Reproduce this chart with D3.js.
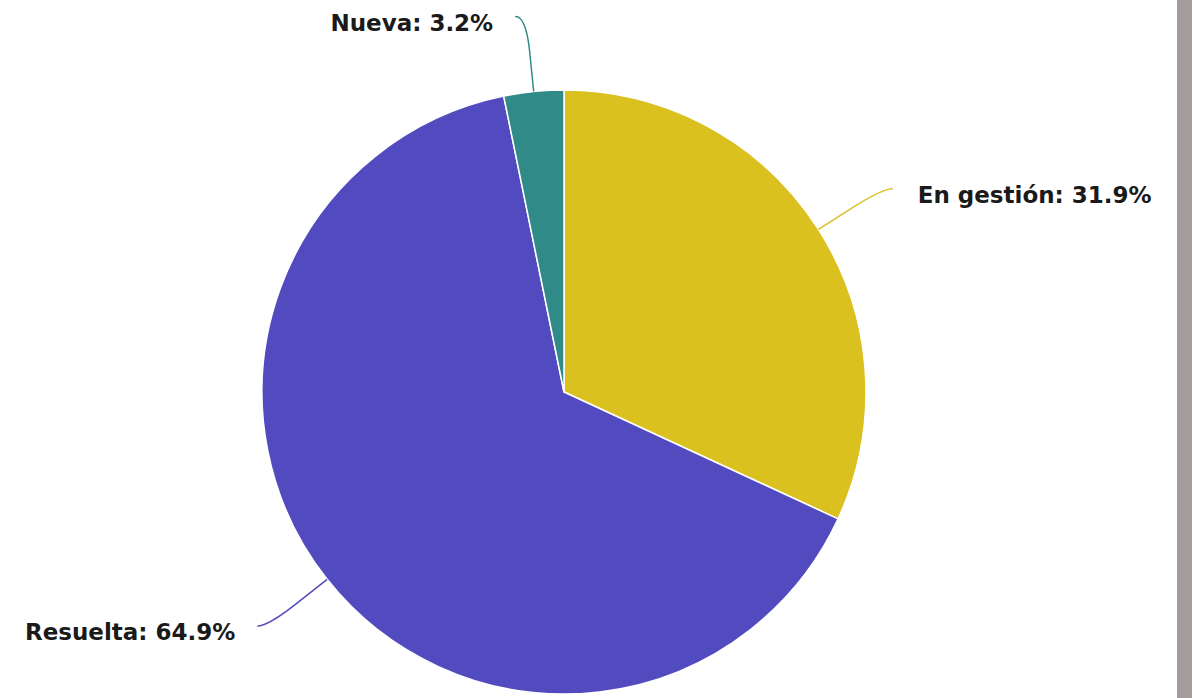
<!DOCTYPE html>
<html>
<head>
<meta charset="utf-8">
<script src="https://cdn.jsdelivr.net/npm/d3@7"></script>
<style>
  html, body { margin: 0; padding: 0; background: #fff; }
  #chart { width: 1192px; height: 698px; position: relative; }
</style>
</head>
<body>
<div id="chart"></div>
<script>
var categories = ['En gestión', 'Resuelta', 'Nueva'];
var values = [31.9, 64.9, 3.2];
var colors = ['#dbc120', '#524bbf', '#2f8a88'];

var width = 1192, height = 698;
var cx = 564, cy = 392, radius = 302;
var labelDistance = 75;   // etiqueta fuera del borde
var breakDistance = 40;   // quiebre del conector

var svg = d3.select('#chart')
  .append('svg')
  .attr('width', width)
  .attr('height', height);

// barra gris a la derecha
svg.append('rect')
  .attr('x', 1177)
  .attr('y', 0)
  .attr('width', width - 1177)
  .attr('height', height)
  .attr('fill', '#a59d9c');

var data = categories.map(function (c, i) {
  return { name: c, value: values[i], color: colors[i] };
});

var pie = d3.pie()
  .sort(null)
  .value(function (d) { return d.value; });

var arc = d3.arc()
  .innerRadius(0)
  .outerRadius(radius);

var arcs = pie(data);

var g = svg.append('g')
  .attr('transform', 'translate(' + cx + ',' + cy + ')');

g.selectAll('path.slice')
  .data(arcs)
  .enter()
  .append('path')
  .attr('class', 'slice')
  .attr('d', arc)
  .attr('fill', function (d) { return d.data.color; })
  .attr('stroke', '#fff')
  .attr('stroke-width', 1.5)
  .attr('stroke-linejoin', 'round');

function polar(a, r) {
  return [Math.sin(a) * r, -Math.cos(a) * r];
}

arcs.forEach(function (d) {
  var mid = (d.startAngle + d.endAngle) / 2;
  var side = Math.sin(mid) >= 0 ? 1 : -1;
  var p0 = polar(mid, radius);
  var b = polar(mid, radius + breakDistance);
  var lp = polar(mid, radius + labelDistance);
  var lx = lp[0] + side * 11, ly = lp[1];
  var c2 = [2 * b[0] - p0[0], 2 * b[1] - p0[1]];

  g.append('path')
    .attr('d', 'M' + lx + ',' + ly +
      'C' + lx + ',' + ly + ' ' + c2[0] + ',' + c2[1] + ' ' + b[0] + ',' + b[1] +
      'L' + p0[0] + ',' + p0[1])
    .attr('fill', 'none')
    .attr('stroke', d.data.color)
    .attr('stroke-width', 1.5);

  g.append('text')
    .attr('x', lx + side * (side > 0 ? 25 : 22))
    .attr('y', ly + 6)
    .attr('dy', '0.35em')
    .attr('text-anchor', side > 0 ? 'start' : 'end')
    .attr('font-family', 'DejaVu Sans, Verdana, sans-serif')
    .attr('font-weight', 'bold')
    .attr('font-size', 23)
    .attr('fill', '#1a1a1a')
    .text(d.data.name + ': ' + d3.format('.1f')(d.data.value) + '%');
});
</script>
</body>
</html>
